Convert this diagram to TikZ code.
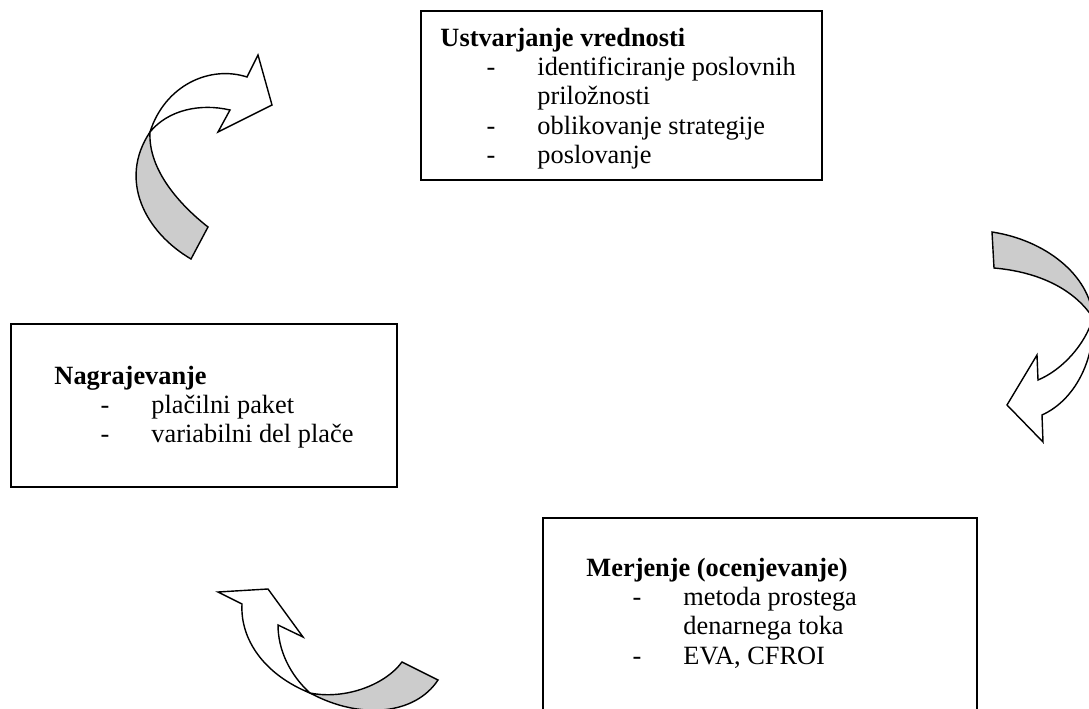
\documentclass[tikz,border=0pt]{standalone}
\usepackage{fontspec}
\setmainfont{Liberation Serif}
\usetikzlibrary{calc,fit}
\definecolor{SivaSenca}{HTML}{CCCCCC}
\tikzset{
  okvir/.style   = {draw, line width=1pt, inner sep=0pt},
  napis/.style   = {anchor=base west, inner sep=0pt,
                    font=\fontsize{15}{16.7}\selectfont},
  trak/.style    = {draw, line width=0.8pt, fill=SivaSenca, line join=miter},
  puscica/.style = {draw, line width=0.8pt, fill=white, line join=miter},
}
\newcommand{\naslov}[1]{\multicolumn{3}{@{}l@{}}{\textbf{#1}}}

\begin{document}
\begin{tikzpicture}[x=0.02cm, y=-0.02cm]
  \useasboundingbox (0,0) rectangle (1089,709);
  \clip (0,0) rectangle (1089,709);

  % okvirji
  \node[okvir, fit={(421,11) (822,180)}] (ustv) {};
  \node[okvir, fit={(11,324) (397,487)}] (nagr) {};
  \node[okvir, fit={(543,518) (977,740)}] (merj) {};

  \begin{scope}
    \clip (ustv.north west) rectangle ($(ustv.south east)+(0,-10)$);
    \node[napis] (ustvtxt) at ($(ustv.north west)+(20,36)$)
      {\begin{tabular}[t]{@{}p{26.2pt}@{}p{29pt}@{}l@{}}
         \naslov{Ustvarjanje vrednosti}\\
         & - & identificiranje poslovnih\\
         &   & priložnosti\\
         & - & oblikovanje strategije\\
         & - & poslovanje
       \end{tabular}};
  \end{scope}
  \node[napis] (nagrtxt) at ($(nagr.north west)+(44,61)$)
    {\begin{tabular}[t]{@{}p{26.2pt}@{}p{29pt}@{}l@{}}
       \naslov{Nagrajevanje}\\
       & - & plačilni paket\\
       & - & variabilni del plače
     \end{tabular}};
  \node[napis] (merjtxt) at ($(merj.north west)+(44,59)$)
    {\begin{tabular}[t]{@{}p{26.2pt}@{}p{29pt}@{}l@{}}
       \naslov{Merjenje (ocenjevanje)}\\
       & - & metoda prostega\\
       &   & denarnega toka\\
       & - & EVA, CFROI
     \end{tabular}};

  % puscica: nagrajevanje -> ustvarjanje
  \coordinate (krizA) at (150,132);
  \draw[trak] (191,259) .. controls (145,232) and (118,180) .. (krizA)
    .. controls (148,170) and (180,205) .. (208,227) -- cycle;
  \draw[puscica] (krizA) .. controls (165,85) and (210,65) .. (247,77)
    -- (258,55) -- (272,105) -- (218,132) -- (230,110)
    .. controls (200,103) and (168,110) .. (krizA) -- cycle;

  % puscica: ustvarjanje -> merjenje
  \coordinate (krizB) at (1093,318);
  \draw[trak] (992,232) .. controls (1045,240) and (1090,275) .. (krizB)
    .. controls (1075,290) and (1040,272) .. (994,268) -- cycle;
  \draw[puscica] (krizB) .. controls (1095,360) and (1075,400) .. (1042,415)
    -- (1043,442) -- (1007,405) -- (1037,355) -- (1038,380)
    .. controls (1062,370) and (1085,345) .. (krizB) -- cycle;

  % puscica: merjenje -> nagrajevanje
  \coordinate (krizC) at (310,693);
  \draw[trak] (krizC) .. controls (345,700) and (385,685) .. (402,662)
    -- (438,680) .. controls (415,715) and (360,720) .. (krizC) -- cycle;
  \draw[puscica] (krizC) .. controls (265,675) and (240,640) .. (242,604)
    -- (218,592) -- (268,589) -- (303,637) -- (278,625)
    .. controls (278,650) and (290,675) .. (krizC) -- cycle;
\end{tikzpicture}
\end{document}
